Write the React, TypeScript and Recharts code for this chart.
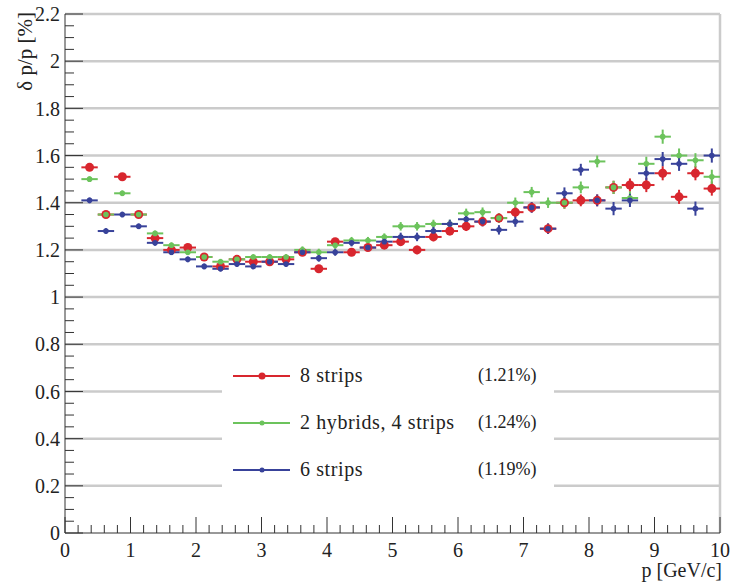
import { CartesianGrid, ErrorBar, Legend, Scatter, ScatterChart, XAxis, YAxis } from 'recharts';

// bin centres in p [GeV/c], 0.25 GeV wide bins
const momentum = [
  0.375, 0.625, 0.875, 1.125, 1.375, 1.625, 1.875, 2.125, 2.375, 2.625,
  2.875, 3.125, 3.375, 3.625, 3.875, 4.125, 4.375, 4.625, 4.875, 5.125,
  5.375, 5.625, 5.875, 6.125, 6.375, 6.625, 6.875, 7.125, 7.375, 7.625,
  7.875, 8.125, 8.375, 8.625, 8.875, 9.125, 9.375, 9.625, 9.875
];

const strips8 = [
  1.55, 1.35, 1.51, 1.35, 1.25, 1.2, 1.21, 1.17, 1.13, 1.16,
  1.15, 1.15, 1.16, 1.19, 1.12, 1.235, 1.19, 1.21, 1.22, 1.235,
  1.2, 1.255, 1.28, 1.3, 1.32, 1.335, 1.36, 1.38, 1.29, 1.4,
  1.41, 1.41, 1.465, 1.475, 1.475, 1.525, 1.425, 1.525, 1.46
];

const hybrids4 = [
  1.5, 1.35, 1.44, 1.35, 1.27, 1.22, 1.19, 1.17, 1.15, 1.16,
  1.17, 1.17, 1.17, 1.2, 1.19, 1.22, 1.24, 1.24, 1.255, 1.3,
  1.3, 1.31, 1.31, 1.355, 1.36, 1.335, 1.4, 1.445, 1.4, 1.4,
  1.465, 1.575, 1.465, 1.42, 1.565, 1.68, 1.6, 1.58, 1.51
];

const strips6 = [
  1.41, 1.28, 1.35, 1.3, 1.23, 1.19, 1.16, 1.13, 1.12, 1.14,
  1.13, 1.15, 1.14, 1.19, 1.165, 1.19, 1.23, 1.21, 1.235, 1.255,
  1.255, 1.28, 1.31, 1.33, 1.32, 1.285, 1.32, 1.38, 1.29, 1.44,
  1.54, 1.41, 1.375, 1.41, 1.525, 1.585, 1.565, 1.375, 1.6
];

const yErr = [
  0.012, 0.012, 0.012, 0.012, 0.012, 0.012, 0.012, 0.012, 0.012, 0.012,
  0.012, 0.012, 0.012, 0.015, 0.015, 0.015, 0.015, 0.015, 0.015, 0.018,
  0.018, 0.018, 0.018, 0.02, 0.02, 0.02, 0.022, 0.022, 0.022, 0.025,
  0.025, 0.025, 0.028, 0.028, 0.03, 0.03, 0.03, 0.03, 0.03
];

const binHalfWidth = 0.125;

const yGridLines = [0.2, 0.4, 0.6, 0.8, 1, 1.2, 1.4, 1.6, 1.8, 2, 2.2];

const seriesNames = ['8 strips', '2 hybrids, 4 strips', '6 strips'];
const seriesMeans = ['(1.21%)', '(1.24%)', '(1.19%)'];
const seriesColors = ['#d8262e', '#6cc35c', '#38429a'];

// minor ticks: 5 per unit on x, 4 per 0.2 on y
const xTicks = Array.from({ length: 51 }, (_, i) => Math.round(i * 20) / 100);
const yTicks = Array.from({ length: 45 }, (_, i) => Math.round(i * 5) / 100);

const W = 732;
const H = 584;
const LEFT = 65;
const TOP = 14;
const BOTTOM = 533;
const FONT = "'Times New Roman', 'Liberation Serif', serif";

const toPoints = (values: number[]) =>
  momentum.map((x, i) => ({ x, y: values[i], ex: binHalfWidth, ey: yErr[i] }));

const isMajor = (v: number, step: number) => Math.abs(v / step - Math.round(v / step)) < 1e-6;

function YTick(props: any) {
  const { y, payload } = props;
  const v = payload.value as number;
  const major = isMajor(v, 0.2);
  return (
    <g>
      <line x1={LEFT} x2={LEFT + (major ? 18 : 9)} y1={y} y2={y} stroke="#333" strokeWidth={1} />
      {major && (
        <text x={LEFT - 5} y={y} dy="0.36em" textAnchor="end" fontFamily={FONT} fontSize={20} fill="#222">
          {String(Math.round(v * 10) / 10)}
        </text>
      )}
    </g>
  );
}

function XTick(props: any) {
  const { x, payload } = props;
  const v = payload.value as number;
  const major = isMajor(v, 1);
  return (
    <g>
      <line x1={x} x2={x} y1={BOTTOM} y2={BOTTOM - (major ? 16 : 8)} stroke="#333" strokeWidth={1} />
      {major && (
        <text x={x} y={557} textAnchor="middle" fontFamily={FONT} fontSize={20} fill="#222">
          {String(v)}
        </text>
      )}
    </g>
  );
}

function marker(color: string, r: number) {
  return (props: any) => <circle cx={props.cx} cy={props.cy} r={r} fill={color} />;
}

function LegendBox() {
  return (
    <div style={{ background: '#fff', width: 332, height: 145, position: 'relative', fontFamily: FONT, color: '#222' }}>
      {seriesNames.map((name, i) => {
        const top = 26 + i * 47;
        return (
          <div key={name} style={{ position: 'absolute', left: 0, top, width: 332, height: 0 }}>
            <svg width={60} height={12} style={{ position: 'absolute', left: 10, top: -6 }}>
              <line x1={1} x2={58} y1={6} y2={6} stroke={seriesColors[i]} strokeWidth={2} />
              <circle cx={30} cy={6} r={i === 0 ? 3.5 : 2.5} fill={seriesColors[i]} />
            </svg>
            <span style={{ position: 'absolute', left: 78, top: -12, whiteSpace: 'nowrap', lineHeight: '22px', fontSize: 20, letterSpacing: '0.6px' }}>{name}</span>
            <span style={{ position: 'absolute', left: 256, top: -12, whiteSpace: 'nowrap', lineHeight: '22px', fontSize: 18 }}>{seriesMeans[i]}</span>
          </div>
        );
      })}
    </div>
  );
}

export default function App() {
  const series = [strips8, hybrids4, strips6];
  return (
    <div style={{ position: 'absolute', left: 0, top: 0, width: W, height: H, background: '#fff' }}>
      <ScatterChart width={W} height={H} margin={{ top: TOP, right: 12, bottom: 0, left: 0 }}>
        <CartesianGrid
          horizontalValues={yGridLines}
          verticalValues={[10]}
          stroke="#cbcbcb"
          strokeWidth={2.5}
        />
        <XAxis
          type="number"
          dataKey="x"
          domain={[0, 10]}
          ticks={xTicks}
          interval={0}
          height={H - BOTTOM}
          tickLine={false}
          axisLine={{ stroke: '#333', strokeWidth: 1 }}
          tick={<XTick />}
          label={{
            content: () => (
              <text x={722} y={577} textAnchor="end" fontFamily={FONT} fontSize={20} fill="#222">
                p [GeV/c]
              </text>
            )
          }}
        />
        <YAxis
          type="number"
          dataKey="y"
          domain={[0, 2.2]}
          ticks={yTicks}
          interval={0}
          width={LEFT}
          tickLine={false}
          axisLine={{ stroke: '#333', strokeWidth: 1 }}
          tick={<YTick />}
          label={{
            content: () => (
              <text transform="translate(32,12) rotate(-90)" textAnchor="end" fontFamily={FONT} fontSize={21} fill="#222">
                δ p/p [%]
              </text>
            )
          }}
        />
        <Legend
          layout="vertical"
          align="center"
          verticalAlign="middle"
          content={() => <LegendBox />}
          wrapperStyle={{ position: 'absolute', left: 222, top: 350, width: 332, height: 145 }}
        />
        {series.map((values, i) => (
          <Scatter
            key={seriesNames[i]}
            name={seriesNames[i]}
            data={toPoints(values)}
            fill={seriesColors[i]}
            shape={marker(seriesColors[i], i === 0 ? 4.5 : 2.8)}
            isAnimationActive={false}
          >
            <ErrorBar dataKey="ex" direction="x" width={0} stroke={seriesColors[i]} strokeWidth={2} />
            <ErrorBar dataKey="ey" direction="y" width={0} stroke={seriesColors[i]} strokeWidth={2} />
          </Scatter>
        ))}
      </ScatterChart>
    </div>
  );
}
